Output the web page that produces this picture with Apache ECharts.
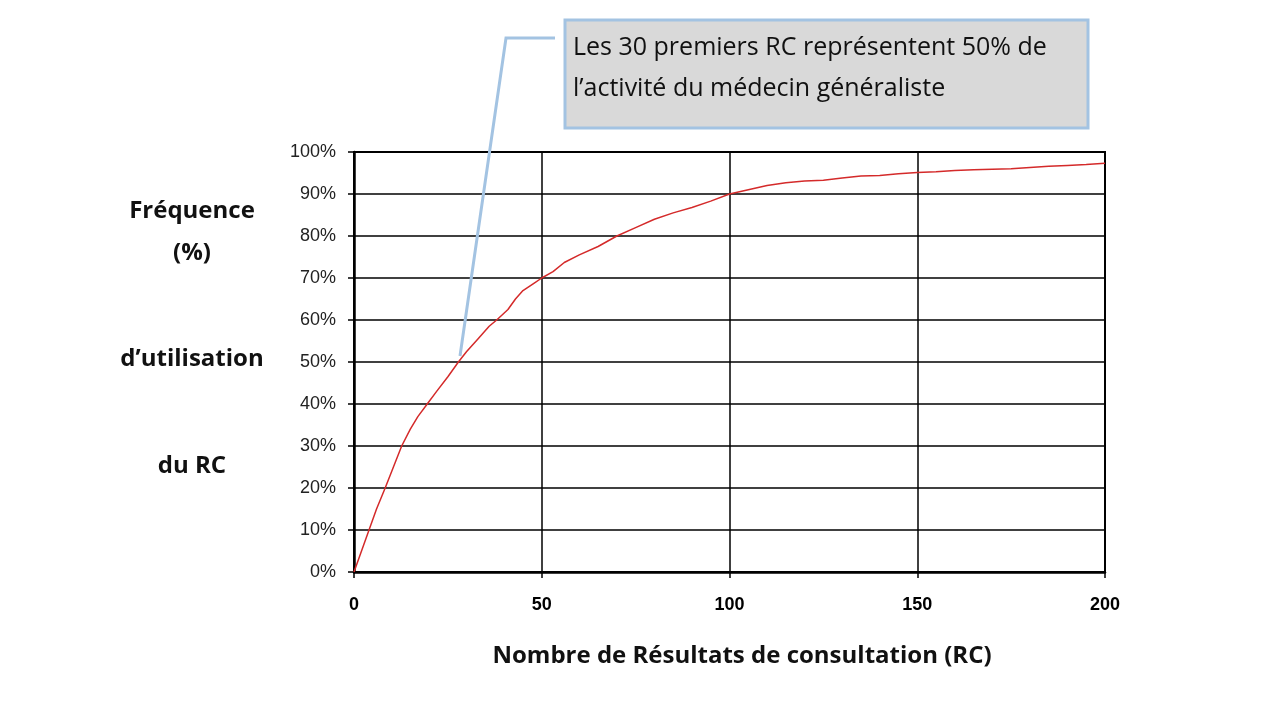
<!DOCTYPE html>
<html><head><meta charset="utf-8">
<script src="https://cdn.jsdelivr.net/npm/echarts@6/dist/echarts.min.js"></script>
<style>html,body{margin:0;padding:0;background:#fff}#c{width:1280px;height:720px}</style>
</head><body><div id="c"></div>
<script>
// Number of RC (x) and cumulative frequency in % (y)
const rcCount = [0,2,4,6,8.3,10.5,12.7,15,17,19.5,22,25,27.8,30,33,36,38,41,43,45,48,50,53,56,60,65,70,75,80,85,90,95,100,105,110,115,120,125,130,135,140,145,150,155,160,165,170,175,180,185,190,195,200];
const cumFreq = [0,5,10,15,20,25,30,34,37,40,43,46.5,50,52.5,55.5,58.5,60,62.5,65,67,68.8,70,71.5,73.7,75.5,77.5,80,82,84,85.5,86.8,88.3,90,91,92,92.7,93.1,93.3,93.8,94.3,94.4,94.8,95.1,95.3,95.6,95.8,95.9,96,96.3,96.6,96.8,97,97.3];
const xTitle = 'Nombre de Résultats de consultation (RC)';
const yTitleLines = ['Fréquence','(%)','d\u2019utilisation','du RC'];
const calloutLines = ['Les 30 premiers RC représentent 50% de','l\u2019activité du médecin généraliste'];

const chart = echarts.init(document.getElementById('c'));
const data = rcCount.map((x,i)=>[x,cumFreq[i]]);
const titleFont = 'Open Sans, Lato, sans-serif';
chart.setOption({
  animation:false,
  grid:{left:354,right:175,top:152,bottom:148,show:true,borderColor:'#000',borderWidth:2,backgroundColor:'transparent'},
  xAxis:{type:'value',min:0,max:200,interval:50,
    axisLine:{lineStyle:{color:'#000',width:2.5}},
    axisTick:{show:true,length:6,lineStyle:{color:'#000',width:1.5}},
    axisLabel:{color:'#000',fontSize:18,fontWeight:'bold',fontFamily:'Liberation Sans, Arial',margin:24},
    splitLine:{show:true,lineStyle:{color:'#000',width:1.5}}},
  yAxis:{type:'value',min:0,max:100,interval:10,
    axisLine:{show:true,lineStyle:{color:'#000',width:2.5}},
    axisTick:{show:true,length:6,lineStyle:{color:'#000',width:1.5}},
    axisLabel:{color:'#222',fontSize:18,fontFamily:'Liberation Sans, Arial',formatter:'{value}%',margin:18},
    splitLine:{show:true,lineStyle:{color:'#000',width:1.5}}},
  series:[{type:'line',data:data,showSymbol:false,smooth:false,lineStyle:{color:'#d42a2a',width:1.5},z:5}],
  graphic:[
    {type:'text',x:742,y:656,style:{text:xTitle,font:'bold 24px '+titleFont,fill:'#111',textAlign:'center',textVerticalAlign:'middle'}},
    {type:'text',x:192,y:211,style:{text:yTitleLines[0],font:'bold 24px '+titleFont,fill:'#111',textAlign:'center',textVerticalAlign:'middle'}},
    {type:'text',x:192,y:253,style:{text:yTitleLines[1],font:'bold 24px '+titleFont,fill:'#111',textAlign:'center',textVerticalAlign:'middle'}},
    {type:'text',x:192,y:359,style:{text:yTitleLines[2],font:'bold 24px '+titleFont,fill:'#111',textAlign:'center',textVerticalAlign:'middle'}},
    {type:'text',x:192,y:466,style:{text:yTitleLines[3],font:'bold 24px '+titleFont,fill:'#111',textAlign:'center',textVerticalAlign:'middle'}},
    {type:'rect',shape:{x:565,y:20,width:523,height:108},style:{fill:'#d9d9d9',stroke:'#a3c3e2',lineWidth:3},z:10},
    {type:'text',x:573,y:48,style:{text:calloutLines[0],font:'25px '+titleFont,fill:'#111',textVerticalAlign:'middle'},z:11},
    {type:'text',x:573,y:89,style:{text:calloutLines[1],font:'25px '+titleFont,fill:'#111',textVerticalAlign:'middle'},z:11},
    {type:'polyline',shape:{points:[[555,38],[506,38],[460,356]]},style:{stroke:'#a3c3e2',lineWidth:3,fill:null},z:10}
  ]
});
</script></body></html>
